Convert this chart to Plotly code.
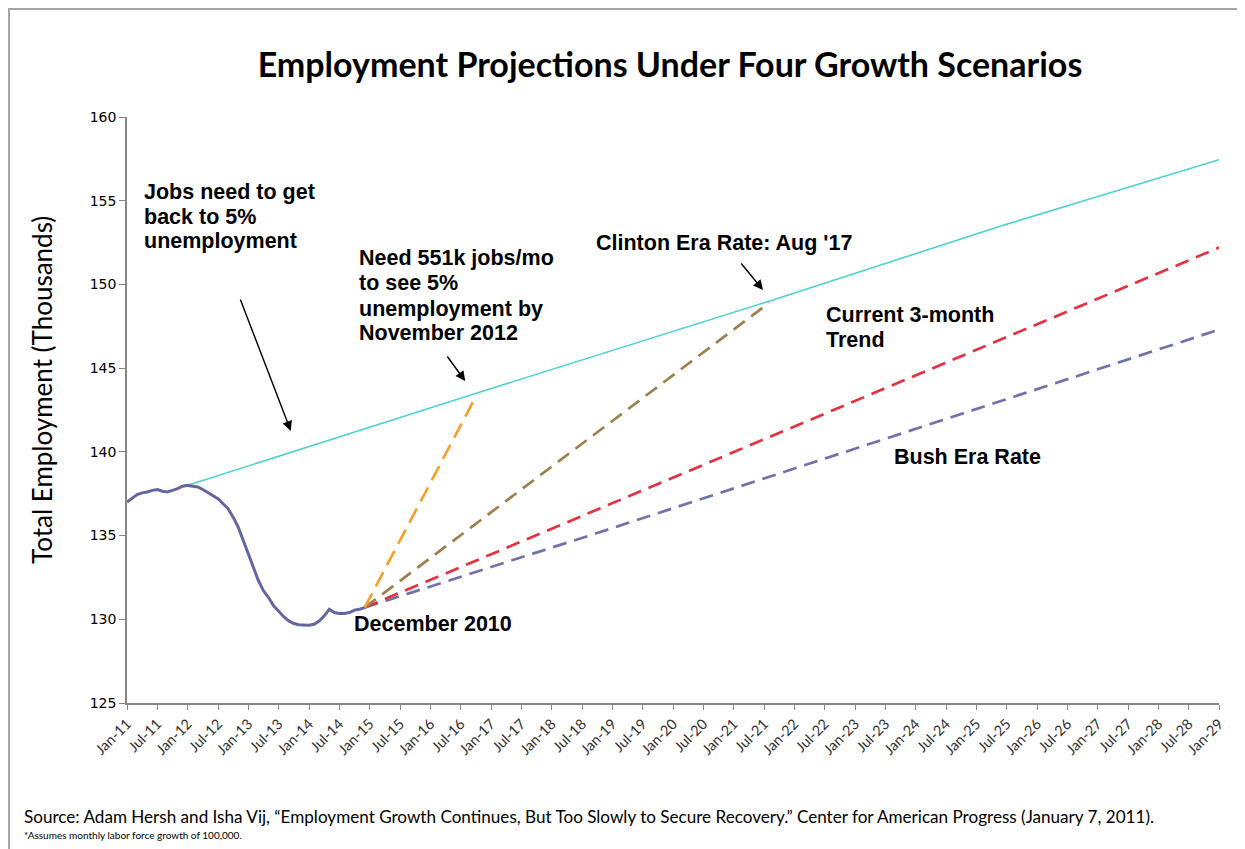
import plotly.graph_objects as go

# ---------------- data ----------------
tick_vals = list(range(0, 217, 6))
tick_labels = ["Jan-11", "Jul-11", "Jan-12", "Jul-12", "Jan-13", "Jul-13", "Jan-14", "Jul-14",
               "Jan-15", "Jul-15", "Jan-16", "Jul-16", "Jan-17", "Jul-17", "Jan-18", "Jul-18",
               "Jan-19", "Jul-19", "Jan-20", "Jul-20", "Jan-21", "Jul-21", "Jan-22", "Jul-22",
               "Jan-23", "Jul-23", "Jan-24", "Jul-24", "Jan-25", "Jul-25", "Jan-26", "Jul-26",
               "Jan-27", "Jul-27", "Jan-28", "Jul-28", "Jan-29"]

history_months = list(range(0, 48))
history_values = [137.0, 137.2, 137.45, 137.55, 137.6, 137.7, 137.75, 137.65, 137.6, 137.7,
                  137.8, 137.95, 138.0, 137.95, 137.9, 137.75, 137.55, 137.35, 137.2, 136.9,
                  136.6, 136.1, 135.5, 134.7, 133.9, 133.0, 132.3, 131.7, 131.3, 130.8,
                  130.45, 130.15, 129.9, 129.75, 129.68, 129.65, 129.65, 129.7, 129.9, 130.2,
                  130.6, 130.4, 130.35, 130.35, 130.4, 130.55, 130.6, 130.7]

full_emp_months = [12, 68, 127, 173, 216]
full_emp_values = [138.0, 143.4, 149.0, 153.5, 157.45]

need551_months = [47, 69]
need551_values = [130.7, 143.3]

clinton_months = [47, 127]
clinton_values = [130.7, 148.9]

current_months = [47, 93, 216]
current_values = [130.7, 136.55, 152.2]

bush_months = [47, 93, 216]
bush_values = [130.7, 135.15, 147.3]

# ---------------- figure ----------------
fig = go.Figure()

fig.add_trace(go.Scatter(x=full_emp_months, y=full_emp_values, mode="lines",
                         line=dict(color="#4fd0d0", width=1.6), hoverinfo="skip"))
fig.add_trace(go.Scatter(x=bush_months, y=bush_values, mode="lines",
                         line=dict(color="#7272ab", width=2.7, dash="14px,8px"), hoverinfo="skip"))
fig.add_trace(go.Scatter(x=current_months, y=current_values, mode="lines",
                         line=dict(color="#e2323f", width=2.7, dash="14px,8px"), hoverinfo="skip"))
fig.add_trace(go.Scatter(x=clinton_months, y=clinton_values, mode="lines",
                         line=dict(color="#9c8050", width=2.7, dash="14px,8px"), hoverinfo="skip"))
fig.add_trace(go.Scatter(x=need551_months, y=need551_values, mode="lines",
                         line=dict(color="#f7a02c", width=2.7, dash="16px,8px"), hoverinfo="skip"))
fig.add_trace(go.Scatter(x=history_months, y=history_values, mode="lines",
                         line=dict(color="#65669f", width=3), hoverinfo="skip"))

ann_font = dict(family="Liberation Sans, Arial, sans-serif", size=21.5, color="#000000")

text_lines = [
    ("Jobs need to get", 3.2, 155.52),
    ("back to 5%", 3.2, 154.03),
    ("unemployment", 3.2, 152.59),
    ("Need 551k jobs/mo", 45.7, 151.58),
    ("to see 5%", 45.7, 150.09),
    ("unemployment by", 45.7, 148.53),
    ("November 2012", 45.7, 147.10),
    ("Clinton Era Rate: Aug '17", 92.6, 152.47),
    ("Current 3-month", 138.1, 148.17),
    ("Trend", 138.1, 146.68),
    ("Bush Era Rate", 151.5, 139.69),
    ("December 2010", 44.7, 129.72),
]
annotations = []
for t, xx, yy in text_lines:
    annotations.append(dict(x=xx, y=yy, xref="x", yref="y", text="<b>%s</b>" % t,
                            showarrow=False, xanchor="left", yanchor="middle",
                            font=ann_font, borderpad=0))

arrows = [(32.4, 141.25, -51, -133), (66.9, 144.23, -19, -26), (125.8, 149.67, -23, -28)]
for xx, yy, axp, ayp in arrows:
    annotations.append(dict(x=xx, y=yy, xref="x", yref="y", text="", showarrow=True,
                            ax=axp, ay=ayp, arrowhead=2, arrowsize=1.4, arrowwidth=1.4,
                            arrowcolor="#000000", standoff=0))

# y-axis title placed as rotated text (centre at screen x=42, y=390)
annotations.append(dict(x=(42 - 127) / 1092, y=(703 - 390) / 586, xref="paper", yref="paper",
                        text="Total Employment (Thousands)", textangle=-90, showarrow=False,
                        xanchor="center", yanchor="middle",
                        font=dict(family="Lato, sans-serif", size=26, color="#000000")))

annotations.append(dict(x=(22 - 127) / 1092, y=(703 - 816) / 586, xref="paper", yref="paper",
                        text="Source: Adam Hersh and Isha Vij, \u201cEmployment Growth Continues, But Too Slowly to Secure Recovery.\u201d Center for American Progress (January 7, 2011).",
                        showarrow=False, xanchor="left", yanchor="middle",
                        font=dict(family="Lato, sans-serif", size=17.1, color="#000000")))
annotations.append(dict(x=(22 - 127) / 1092, y=(703 - 835) / 586, xref="paper", yref="paper",
                        text="*Assumes monthly labor force growth of 100,000.",
                        showarrow=False, xanchor="left", yanchor="middle",
                        font=dict(family="Lato, sans-serif", size=10, color="#000000")))

# page body adds an 8px offset; margins compensate so the plot area sits at
# x 127..1219, y 117..703 in the screenshot
OFF = 8
fig.update_layout(
    width=1245, height=849,
    margin=dict(l=127 - OFF, r=1245 - 1219 + OFF, t=117 - OFF, b=849 - 703 + OFF, autoexpand=False),
    paper_bgcolor="#ffffff", plot_bgcolor="#ffffff",
    showlegend=False,
    title=dict(text="<b>Employment Projections Under Four Growth Scenarios</b>",
               x=(670 - OFF) / 1245, xanchor="center", y=1 - (65 - OFF) / 849, yanchor="middle",
               font=dict(family="Lato, sans-serif", size=34, color="#000000")),
    xaxis=dict(range=[0, 216], tickmode="array", tickvals=tick_vals, ticktext=tick_labels,
               tickangle=-45, ticks="outside", ticklen=5, tickcolor="#868686",
               showline=True, linecolor="#868686", linewidth=1.5, showgrid=False,
               zeroline=False, tickfont=dict(family="Lato, sans-serif", size=14.5, color="#333333")),
    yaxis=dict(range=[125, 160], tickvals=[125, 130, 135, 140, 145, 150, 155, 160],
               ticks="outside", ticklen=6, tickcolor="#868686",
               showline=True, linecolor="#868686", linewidth=1.5, showgrid=False,
               zeroline=False, tickfont=dict(family="DejaVu Sans, Verdana, sans-serif", size=14, color="#000000")),
    annotations=annotations,
    shapes=[dict(type="rect", xref="paper", yref="paper",
                 x0=(9 - 127) / 1092, x1=(1270 - 127) / 1092,
                 y0=(703 - 880) / 586, y1=(703 - 9) / 586,
                 line=dict(color="#a6a6a6", width=2), fillcolor="rgba(0,0,0,0)", layer="below")],
)

fig.write_html("out.html")
